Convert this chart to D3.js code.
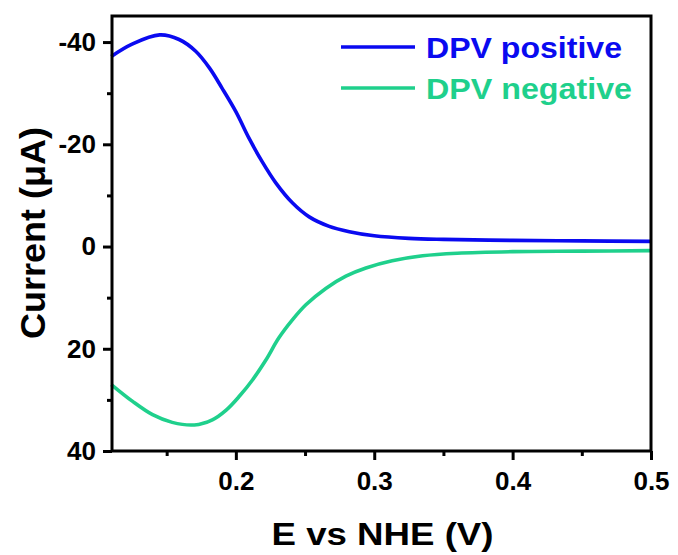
<!DOCTYPE html>
<html>
<head>
<meta charset="utf-8">
<script src="https://cdn.jsdelivr.net/npm/d3@7"></script>
<style>
  html, body { margin: 0; padding: 0; background: #fff; }
  svg { display: block; font-family: "Liberation Sans", Arial, sans-serif; font-weight: bold; }
</style>
</head>
<body>
<svg id="chart" width="678" height="555"></svg>
<script>
// Differential pulse voltammetry scans: potential (V vs NHE) and current (µA)
const positiveE = [0.110, 0.125, 0.145, 0.159, 0.171, 0.181, 0.190, 0.200, 0.2095, 0.219, 0.229, 0.241, 0.253, 0.267, 0.282, 0.300, 0.325, 0.350, 0.400, 0.450, 0.500];
const positiveI = [-37.2, -39.6, -41.4, -40.5, -38.2, -34.9, -31.0, -26.4, -21.2, -16.6, -12.4, -8.5, -5.8, -4.0, -2.9, -2.1, -1.6, -1.4, -1.2, -1.1, -1.0];

const negativeE = [0.110, 0.1254, 0.1398, 0.154, 0.170, 0.183, 0.193, 0.2025, 0.212, 0.2217, 0.231, 0.241, 0.2506, 0.265, 0.2795, 0.294, 0.313, 0.335, 0.360, 0.400, 0.450, 0.500];
const negativeI = [27.0, 30.3, 32.9, 34.4, 34.9, 33.9, 32.0, 29.3, 26.1, 22.2, 17.9, 14.3, 11.4, 8.2, 5.8, 4.2, 2.8, 1.8, 1.3, 1.0, 0.9, 0.8];

const seriesNames = ["DPV positive", "DPV negative"];
const seriesColors = ["#0a0af0", "#1fd08c"];

const xMajorTicks = [0.2, 0.3, 0.4, 0.5];
const xMinorTicks = [0.15, 0.25, 0.35, 0.45];
const yMajorTicks = [-40, -20, 0, 20, 40];
const yMinorTicks = [-30, -10, 10, 30];

const xTitle = "E vs NHE (V)";
const yTitle = "Current (\u03bcA)";

const svg = d3.select("#chart");
const plotLeft = 112, plotRight = 651, plotTop = 16, plotBottom = 451;

const x = d3.scaleLinear().domain([0.1105, 0.5]).range([plotLeft, plotRight]);
const y = d3.scaleLinear().domain([-45.1, 40]).range([plotTop, plotBottom]);

// Curves
const line = d3.line().x(d => x(d[0])).y(d => y(d[1])).curve(d3.curveCatmullRom.alpha(0.5));
const series = [
  d3.zip(positiveE, positiveI),
  d3.zip(negativeE, negativeI)
];
svg.append("g").selectAll("path").data(series).join("path")
  .attr("d", line)
  .attr("fill", "none")
  .attr("stroke", (d, i) => seriesColors[i])
  .attr("stroke-width", 3.6)
  .attr("stroke-linejoin", "round");

// Axes: major + minor ticks pointing outward
const xAxis = svg.append("g").attr("transform", `translate(0,${plotBottom})`)
  .call(d3.axisBottom(x).tickValues(xMajorTicks).tickFormat(d3.format(".1f")).tickSize(9).tickPadding(7));
svg.append("g").attr("transform", `translate(0,${plotBottom})`)
  .call(d3.axisBottom(x).tickValues(xMinorTicks).tickFormat("").tickSize(5));

const yAxis = svg.append("g").attr("transform", `translate(${plotLeft},0)`)
  .call(d3.axisLeft(y).tickValues(yMajorTicks).tickFormat(d => String(d)).tickSize(9).tickPadding(7));
svg.append("g").attr("transform", `translate(${plotLeft},0)`)
  .call(d3.axisLeft(y).tickValues(yMinorTicks).tickFormat("").tickSize(5));

svg.selectAll(".tick line").attr("stroke", "#000").attr("stroke-width", 3);
svg.selectAll(".domain").remove();
svg.selectAll(".tick text")
  .attr("fill", "#000")
  .attr("font-family", "Liberation Sans, Arial, sans-serif")
  .attr("font-weight", "bold")
  .attr("font-size", 26);
xAxis.selectAll(".tick text").attr("dy", "0.9em");

// Plot frame
svg.append("rect")
  .attr("x", plotLeft).attr("y", plotTop)
  .attr("width", plotRight - plotLeft).attr("height", plotBottom - plotTop)
  .attr("fill", "none").attr("stroke", "#000").attr("stroke-width", 3);

// Axis titles
svg.append("text")
  .attr("x", (plotLeft + plotRight) / 2 + 1).attr("y", 545)
  .attr("text-anchor", "middle")
  .attr("font-size", 31)
  .attr("textLength", 222).attr("lengthAdjust", "spacingAndGlyphs")
  .text(xTitle);
svg.append("text")
  .attr("transform", `translate(45,233) rotate(-90)`)
  .attr("text-anchor", "middle")
  .attr("font-size", 35)
  .attr("textLength", 212).attr("lengthAdjust", "spacingAndGlyphs")
  .text(yTitle);

// Legend
const legend = svg.append("g");
const legendY = [47, 88];
seriesNames.forEach((name, i) => {
  legend.append("line")
    .attr("x1", 341).attr("x2", 415)
    .attr("y1", legendY[i]).attr("y2", legendY[i])
    .attr("stroke", seriesColors[i]).attr("stroke-width", 3.6);
  legend.append("text")
    .attr("x", 426).attr("y", legendY[i] + 11)
    .attr("font-size", 29)
    .attr("fill", seriesColors[i])
    .attr("textLength", i === 0 ? 196 : 206).attr("lengthAdjust", "spacingAndGlyphs")
    .text(name);
});
</script>
</body>
</html>
